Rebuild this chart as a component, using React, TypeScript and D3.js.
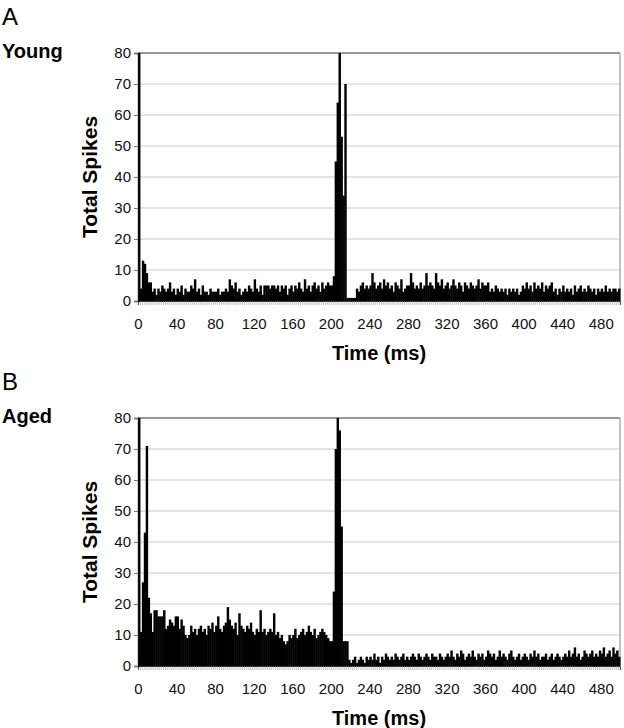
import { useEffect, useRef } from "react";
import * as d3 from "d3";

// 2 ms bins, 0–500 ms
const binMs = 2;
const timeTicks = [0, 40, 80, 120, 160, 200, 240, 280, 320, 360, 400, 440, 480];
const spikeTicks = [0, 10, 20, 30, 40, 50, 60, 70, 80];

const youngSpikes = [
  80, 4, 13, 12, 9, 6, 6, 3, 4, 2, 4, 3, 5, 4, 3, 4, 6, 3, 4, 2,
  4, 3, 5, 2, 4, 3, 3, 5, 4, 7, 3, 4, 2, 5, 3, 3, 2, 4, 3, 3,
  3, 4, 2, 3, 3, 4, 3, 7, 5, 4, 6, 3, 4, 2, 3, 4, 3, 5, 4, 3,
  7, 4, 3, 5, 2, 5, 5, 5, 4, 5, 5, 4, 5, 3, 5, 4, 5, 2, 4, 5,
  3, 5, 4, 6, 4, 3, 7, 4, 5, 3, 5, 6, 4, 5, 3, 6, 4, 5, 6, 5,
  5, 8, 45, 64, 80, 53, 34, 70, 1, 1, 1, 1, 1, 4, 3, 5, 6, 4, 5, 4,
  5, 9, 6, 4, 5, 6, 4, 7, 5, 6, 4, 5, 3, 6, 5, 4, 7, 3, 4, 5,
  5, 9, 6, 4, 5, 4, 6, 4, 5, 9, 5, 6, 5, 4, 9, 6, 5, 7, 4, 5,
  6, 4, 5, 7, 5, 4, 6, 5, 3, 6, 5, 4, 6, 5, 4, 5, 7, 4, 6, 5,
  5, 6, 3, 4, 3, 5, 4, 3, 4, 3, 4, 2, 4, 3, 4, 3, 4, 2, 3, 5,
  4, 6, 4, 5, 3, 6, 4, 5, 4, 6, 3, 5, 4, 5, 6, 3, 4, 2, 4, 3,
  5, 3, 4, 3, 4, 2, 5, 3, 4, 5, 3, 4, 3, 5, 4, 3, 4, 2, 4, 3,
  4, 3, 5, 3, 4, 3, 4, 4, 3, 4,
];

const agedSpikes = [
  80, 11, 27, 43, 71, 22, 17, 11, 18, 18, 16, 16, 16, 18, 12, 13, 15, 14, 13, 16,
  16, 12, 15, 13, 10, 9, 10, 13, 11, 12, 10, 12, 13, 11, 12, 10, 13, 12, 14, 11,
  13, 16, 12, 11, 13, 14, 19, 15, 13, 12, 14, 10, 17, 13, 12, 11, 13, 12, 14, 11,
  10, 12, 11, 18, 11, 12, 10, 11, 12, 11, 17, 10, 11, 9, 10, 8, 7, 8, 10, 9,
  10, 12, 9, 10, 11, 12, 10, 11, 13, 11, 10, 12, 9, 10, 11, 12, 11, 10, 9, 8,
  8, 24, 70, 80, 76, 45, 8, 8, 8, 2, 1, 2, 3, 1, 2, 3, 2, 1, 3, 2,
  3, 2, 4, 2, 3, 1, 3, 2, 4, 3, 2, 3, 2, 4, 3, 2, 3, 4, 2, 3,
  2, 3, 4, 3, 2, 4, 3, 2, 3, 4, 3, 2, 4, 3, 3, 2, 4, 3, 2, 3,
  4, 3, 5, 3, 2, 4, 3, 5, 4, 2, 3, 4, 3, 5, 3, 2, 4, 3, 4, 2,
  3, 5, 4, 3, 4, 2, 3, 5, 3, 4, 3, 2, 4, 5, 3, 2, 3, 4, 2, 3,
  4, 3, 2, 4, 3, 5, 3, 4, 2, 3, 3, 4, 2, 3, 4, 2, 3, 4, 3, 2,
  3, 4, 3, 5, 3, 4, 6, 3, 4, 2, 3, 5, 4, 3, 4, 5, 3, 4, 3, 5,
  4, 6, 3, 4, 5, 3, 6, 4, 5, 3,
];

const FONT = "'Liberation Sans', Arial, Helvetica, sans-serif";

export default function App() {
  const svgRef = useRef<SVGSVGElement>(null);

  useEffect(() => {
    const svg = d3.select(svgRef.current);
    svg.selectAll("*").remove();

    const width = 624;
    const plotH = 248;
    const left = 138;
    const right = 620;

    const panels = [
      { letter: "A", group: "Young", values: youngSpikes, top: 53 },
      { letter: "B", group: "Aged", values: agedSpikes, top: 418 },
    ];

    svg.append("rect").attr("width", width).attr("height", 728).attr("fill", "#fff");

    panels.forEach(p => {
      const x = d3.scaleLinear().domain([0, 500]).range([left, right]);
      const y = d3.scaleLinear().domain([0, 80]).range([p.top + plotH, p.top]);
      const g = svg.append("g");

      // gridlines
      g.selectAll("line.grid")
        .data(spikeTicks.filter(t => t > 0 && t < 80))
        .enter()
        .append("line")
        .attr("x1", left)
        .attr("x2", right)
        .attr("y1", d => y(d))
        .attr("y2", d => y(d))
        .attr("stroke", "#cbcbcb")
        .attr("stroke-width", 1);

      // plot frame: dark top, grey right
      g.append("line")
        .attr("x1", left).attr("x2", right)
        .attr("y1", y(80)).attr("y2", y(80))
        .attr("stroke", "#333").attr("stroke-width", 1.2);
      g.append("line")
        .attr("x1", right).attr("x2", right)
        .attr("y1", y(80)).attr("y2", y(0))
        .attr("stroke", "#999").attr("stroke-width", 1.2);

      // bars
      const bw = x(binMs) - x(0);
      g.selectAll("rect.bar")
        .data(p.values)
        .enter()
        .append("rect")
        .attr("x", (_, i) => x(i * binMs))
        .attr("width", bw + 0.5)
        .attr("y", d => y(Math.min(d, 80)))
        .attr("height", d => y(0) - y(Math.min(d, 80)))
        .attr("fill", "#000");

      // minor category ticks under the axis
      const minor = d3.range(0, 501, binMs);
      const minorAxis = g.append("g")
        .attr("transform", `translate(0,${y(0)})`)
        .call(d3.axisBottom(x).tickValues(minor).tickSize(4).tickFormat(() => ""));
      minorAxis.select(".domain").attr("stroke", "#111").attr("stroke-width", 1.2);
      minorAxis.selectAll(".tick line").attr("stroke", "#9a9a9a").attr("stroke-width", 0.6);

      // x labels
      const xLab = g.append("g")
        .attr("transform", `translate(0,${y(0)})`)
        .call(d3.axisBottom(x).tickValues(timeTicks).tickSize(0).tickPadding(17));
      xLab.select(".domain").remove();
      xLab.selectAll("text")
        .attr("font-family", FONT)
        .attr("font-size", 15)
        .attr("fill", "#111");

      // y axis
      const yAxis = g.append("g")
        .attr("transform", `translate(${left},0)`)
        .call(d3.axisLeft(y).tickValues(spikeTicks).tickSize(4).tickPadding(3));
      yAxis.select(".domain").attr("stroke", "#111").attr("stroke-width", 1.4);
      yAxis.selectAll(".tick line").attr("stroke", "#777");
      yAxis.selectAll("text")
        .attr("font-family", FONT)
        .attr("font-size", 15)
        .attr("fill", "#111");

      // titles
      g.append("text")
        .attr("x", (left + right) / 2)
        .attr("y", y(0) + 59)
        .attr("text-anchor", "middle")
        .attr("font-family", FONT)
        .attr("font-weight", "bold")
        .attr("font-size", 20)
        .text("Time (ms)");

      g.append("text")
        .attr("transform", `translate(97,${p.top + plotH / 2}) rotate(-90)`)
        .attr("text-anchor", "middle")
        .attr("font-family", FONT)
        .attr("font-weight", "bold")
        .attr("font-size", 21)
        .text("Total Spikes");

      g.append("text")
        .attr("x", 2)
        .attr("y", p.top - 28)
        .attr("font-family", FONT)
        .attr("font-size", 24)
        .text(p.letter);

      g.append("text")
        .attr("x", 2)
        .attr("y", p.top + 5)
        .attr("font-family", FONT)
        .attr("font-weight", "bold")
        .attr("font-size", 20)
        .text(p.group);
    });
  }, []);

  return (
    <svg
      ref={svgRef}
      width={624}
      height={728}
      style={{ position: "absolute", left: 0, top: 0 }}
    />
  );
}
